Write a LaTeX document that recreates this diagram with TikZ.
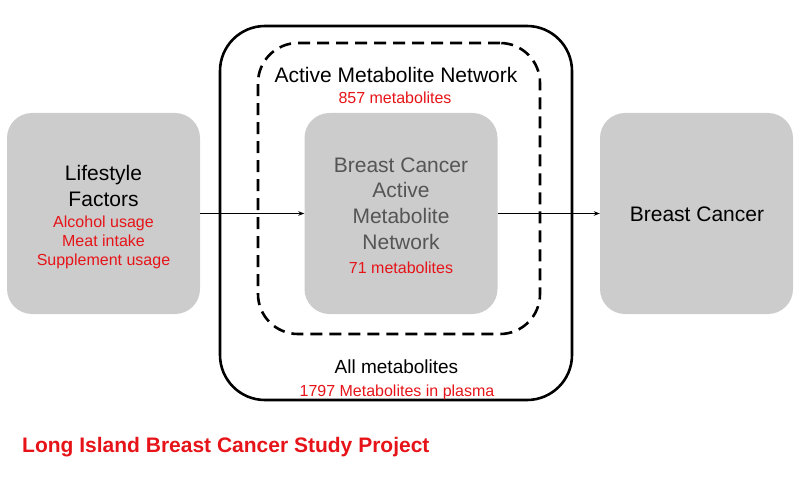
\documentclass[tikz,border=0pt]{standalone}
\usepackage{fontspec}
\setmainfont{Liberation Sans}
\usetikzlibrary{arrows.meta}
\definecolor{boxgray}{HTML}{CCCCCC}
\definecolor{txtred}{RGB}{230,20,25}
\definecolor{txtgray}{HTML}{555555}
\tikzset{
  gbox/.style={fill=boxgray, draw=none, rounded corners=25pt, minimum width=193pt, minimum height=201pt, inner sep=0pt},
  maintxt/.style={font=\fontsize{21}{25}\selectfont, anchor=base, inner sep=0pt},
  redtxt/.style={font=\fontsize{16}{19}\selectfont, text=txtred, anchor=base, inner sep=0pt},
  conn/.style={line width=0.9pt, -{Stealth[length=6pt,width=4.5pt]}}
}
\begin{document}
\begin{tikzpicture}[x=1pt,y=-1pt]
\useasboundingbox (0,0) rectangle (800,500);
% outer solid and dashed frames
\node[draw, line width=2.6pt, rounded corners=45pt, minimum width=352pt, minimum height=374pt, inner sep=0pt] (all) at (396,213) {};
\node[draw, line width=2.6pt, dash pattern=on 12pt off 7pt, rounded corners=40pt, minimum width=282pt, minimum height=291pt, inner sep=0pt] (active) at (399,188.5) {};
% gray boxes
\node[gbox] (life) at (103.5,213.5) {};
\node[gbox] (bcan) at (401,213.5) {};
\node[gbox] (bc) at (696.5,213.5) {};
% connectors
\draw[conn] (life.east) -- (bcan.west);
\draw[conn] (bcan.east) -- (bc.west);
% left texts
\node[maintxt] (t1) at (103.5,180) {Lifestyle};
\node[maintxt] (t2) at (103.5,206) {Factors};
\node[redtxt] (t3) at (103.5,227) {Alcohol usage};
\node[redtxt] (t4) at (103.5,246) {Meat intake};
\node[redtxt] (t5) at (103.5,265) {Supplement usage};
% dashed frame texts
\node[maintxt] (a1) at (396,82.5) {Active Metabolite Network};
\node[redtxt] (a2) at (395,104) {857 metabolites};
% center box texts
\node[maintxt, text=txtgray] (c1) at (401,172.5) {Breast Cancer};
\node[maintxt, text=txtgray] (c2) at (401,197.5) {Active};
\node[maintxt, text=txtgray] (c3) at (401,223.5) {Metabolite};
\node[maintxt, text=txtgray] (c4) at (401,249.5) {Network};
\node[redtxt] (c5) at (401,273) {71 metabolites};
% right
\node[maintxt] (r1) at (697,221.5) {Breast Cancer};
% outer texts
\node[maintxt, font=\fontsize{19}{23}\selectfont] (o1) at (396.5,373) {All metabolites};
\node[redtxt] (o2) at (397,396) {1797 Metabolites in plasma};
% title
\node[maintxt, anchor=base west, text=txtred, font=\fontsize{21}{25}\selectfont\bfseries] (title) at (22,452.5) {Long Island Breast Cancer Study Project};
\end{tikzpicture}
\end{document}
